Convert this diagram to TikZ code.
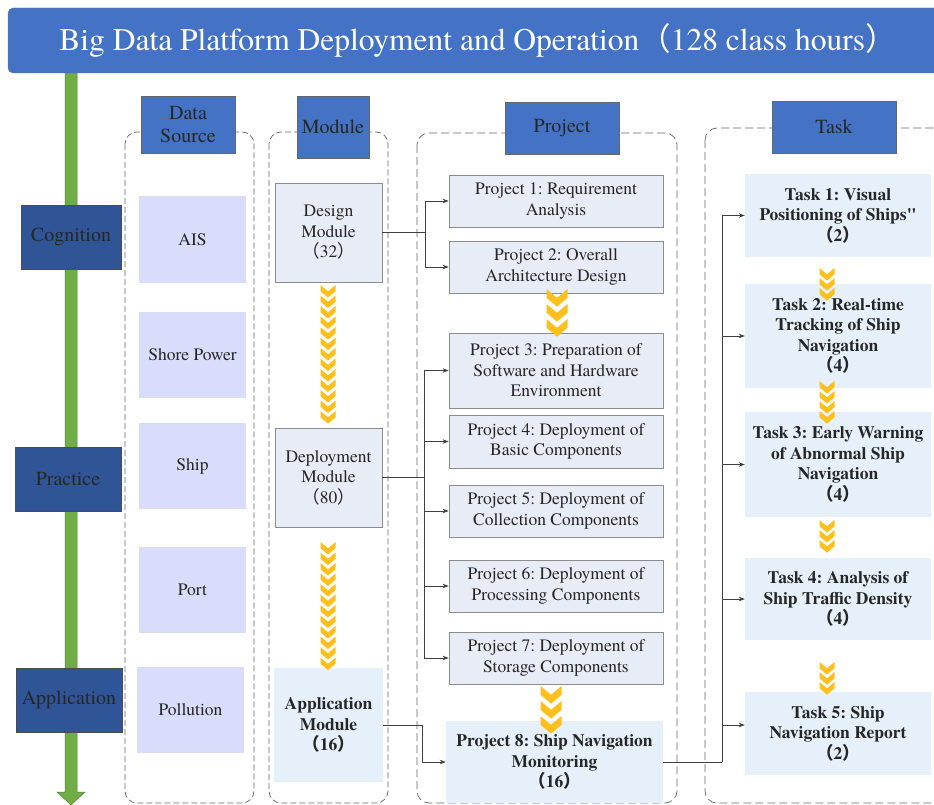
\documentclass[tikz,border=0pt]{standalone}
\usepackage{fontspec}
\newfontfamily\termes{texgyretermes-regular.otf}[BoldFont=texgyretermes-bold.otf]
\newfontfamily\cjk{Noto Sans CJK SC}
\usepackage{xcolor}
\usepackage{tikz}
\usetikzlibrary{arrows.meta}
\usetikzlibrary{calc}

\definecolor{titleblue}{RGB}{68,114,196}
\definecolor{sideblue}{RGB}{47,85,151}
\definecolor{srcfill}{RGB}{217,220,250}
\definecolor{modfill}{RGB}{232,236,247}
\definecolor{appfill}{RGB}{229,240,251}
\definecolor{chevgold}{RGB}{255,192,30}
\definecolor{bargreen}{RGB}{112,173,71}
\definecolor{bardark}{RGB}{84,130,53}

\newcommand{\lp}{{\cjk （}}
\newcommand{\rp}{{\cjk ）}}

% a column of chevrons: x, top y, count, width, step
\newcommand{\chevrons}[5]{%
    \foreach \k in {1,...,#3} {
        \fill[chev, shift={(#1,{#2+(\k-1)*#5})}]
            ({-#4/2},0) -- (0,{0.42*#4}) -- ({#4/2},0) -- ({#4/2},{0.42*#4})
            -- (0,{0.84*#4}) -- ({-#4/2},{0.42*#4}) -- cycle;
    }%
}

\begin{document}
\frenchspacing
\begin{tikzpicture}[x=1pt, y=-1pt,
    txt/.style={font=\termes\fontsize{17.5pt}{20.5pt}\selectfont, align=center, inner sep=0pt, text=black!85},
    head/.style={txt, font=\termes\fontsize{20pt}{23pt}\selectfont, fill=titleblue, draw=black!60, line width=0.8pt},
    side/.style={head, fill=sideblue, draw=black!70, minimum width=100pt, minimum height=64pt},
    group/.style={draw=black!60, dash pattern=on 8pt off 4pt, rounded corners=12pt, line width=0.7pt},
    src/.style={txt, fill=srcfill, minimum width=107pt, minimum height=86pt},
    modbox/.style={txt, fill=modfill, draw=black!45, line width=0.8pt},
    projbox/.style={modbox, minimum width=214pt},
    appbox/.style={txt, fill=appfill, font=\termes\fontsize{17.5pt}{20.5pt}\selectfont\bfseries},
    taskbox/.style={appbox, minimum width=186pt},
    link/.style={draw=black!75, line width=0.7pt},
    arr/.style={link, -{Stealth[length=6pt,width=4.5pt]}},
    chev/.style={fill=chevgold}]
    \clip (0,0) rectangle (934,805);

    % timeline
    \fill[bargreen, draw=bardark, line width=0.5pt] (65,73) -- (77,73) -- (77,792)
        -- (85,792) -- (71,805) -- (57,792) -- (65,792) -- cycle;

    \node[txt, fill=titleblue, draw=black!50, rounded corners=5pt, minimum width=940pt,
        minimum height=65pt, font=\termes\fontsize{31.5pt}{31.5pt}\selectfont, text=white]
        (title) at (478,40.5) {Big Data Platform Deployment and Operation\lp 128 class hours\rp};

    % columns
    \draw[group, dash pattern=on 6pt off 3pt] (125,132) rectangle (254,803);
    \draw[group, dash pattern=on 6pt off 3pt] (269,132) rectangle (388,803);
    \draw[group] (417,133) rectangle (677,803);
    \draw[group] (705,128) rectangle (950,803);

    \node[head, minimum width=94pt, minimum height=57pt] (hsrc) at (188,124.5) {Data\\Source};
    \node[head, minimum width=72pt, minimum height=62pt] (hmod) at (333,127) {Module};
    \node[head, minimum width=114pt, minimum height=52pt] (hproj) at (562,128) {Project};
    \node[head, minimum width=124pt, minimum height=52pt] (htask) at (834,127) {Task};

    \node[side] (cog) at (71,237) {Cognition};
    \node[side, minimum width=106pt] (prac) at (68,479) {Practice};
    \node[side, minimum width=106pt] (appl) at (69,700) {Application};

    % data sources
    \node[src] (ais) at (192.5,239.5) {AIS};
    \node[src] (shore) at (192.5,354.5) {Shore Power};
    \node[src] (ship) at (192.5,466) {Ship};
    \node[src] (port) at (192.5,590) {Port};
    \node[src] (poll) at (190.5,710) {Pollution};

    % modules
    \node[modbox, minimum width=107pt, minimum height=99pt] (dm) at (328.5,232.5) {Design\\Module\\\lp 32\rp};
    \node[modbox, minimum width=107pt, minimum height=99pt] (pm) at (328.5,477.5) {Deployment\\Module\\\lp 80\rp};
    \node[appbox, minimum width=109pt, minimum height=114pt] (am) at (328.5,725) {Application\\Module\\\lp 16\rp};

    % projects
    \node[projbox, minimum height=52pt] (p1) at (556,201) {Project 1: Requirement\\Analysis};
    \node[projbox, minimum height=52pt] (p2) at (556,267) {Project 2: Overall\\Architecture Design};
    \node[projbox, minimum height=75pt] (p3) at (556,370.5) {Project 3: Preparation of\\Software and Hardware\\Environment};
    \node[projbox, minimum height=53pt] (p4) at (556,441.5) {Project 4: Deployment of\\Basic Components};
    \node[projbox, minimum height=52pt] (p5) at (556,511) {Project 5: Deployment of\\Collection Components};
    \node[projbox, minimum height=52pt] (p6) at (556,586) {Project 6: Deployment of\\Processing Components};
    \node[projbox, minimum height=52pt] (p7) at (556,658) {Project 7: Deployment of\\Storage Components};
    \node[appbox, minimum width=217pt, minimum height=82pt] (p8) at (554.5,762) {Project 8: Ship Navigation\\Monitoring\\\lp 16\rp};

    % tasks
    \node[taskbox, minimum height=83pt] (t1) at (838,215.5) {Task 1: Visual\\Positioning of Ships"\\\lp 2\rp};
    \node[taskbox, minimum height=104pt] (t2) at (838,336) {Task 2: Real-time\\Tracking of Ship\\Navigation\\\lp 4\rp};
    \node[taskbox, minimum height=105pt] (t3) at (838,464.5) {Task 3: Early Warning\\of Abnormal Ship\\Navigation\\\lp 4\rp};
    \node[taskbox, minimum height=82pt] (t4) at (838,599) {Task 4: Analysis of\\Ship Traffic Density\\\lp 4\rp};
    \node[taskbox, minimum height=83pt] (t5) at (838,733.5) {Task 5: Ship\\Navigation Report\\\lp 2\rp};

    % connectors
    \coordinate (jd) at (425,232.5);
    \coordinate (jp) at (424,477.5);
    \coordinate (ja) at (422,725);
    \coordinate (jt) at (722,762);

    \draw[link] (dm.east) -- (jd);
    \draw[arr] (jd) |- (p1.west);
    \draw[arr] (jd) |- (p2.west);

    \draw[link] (pm.east) -- (jp);
    \foreach \p in {p3,p4,p5,p6,p7}
        \draw[arr] (jp) |- (\p.west);

    \draw[link] (am.east) -- (ja);
    \draw[arr] (ja) |- (p8.west);

    \draw[link] (p8.east) -- (jt);
    \foreach \t in {t1,t2,t3,t4}
        \draw[arr] (jt) |- (\t.west);
    \draw[arr] (jt) |- ([yshift=8.5pt]t5.west);

    % chevrons
    \chevrons{328}{285}{13}{15}{10.5}
    \chevrons{328}{542}{12}{15}{10.5}
    \chevrons{557}{289}{3}{21}{15}
    \chevrons{551}{686}{3}{21}{15}
    \chevrons{827}{268}{3}{15}{10}
    \chevrons{827}{381}{4}{15}{10}
    \chevrons{827}{520}{3}{15}{10}
    \chevrons{827}{662}{3}{15}{10}
\end{tikzpicture}
\end{document}
